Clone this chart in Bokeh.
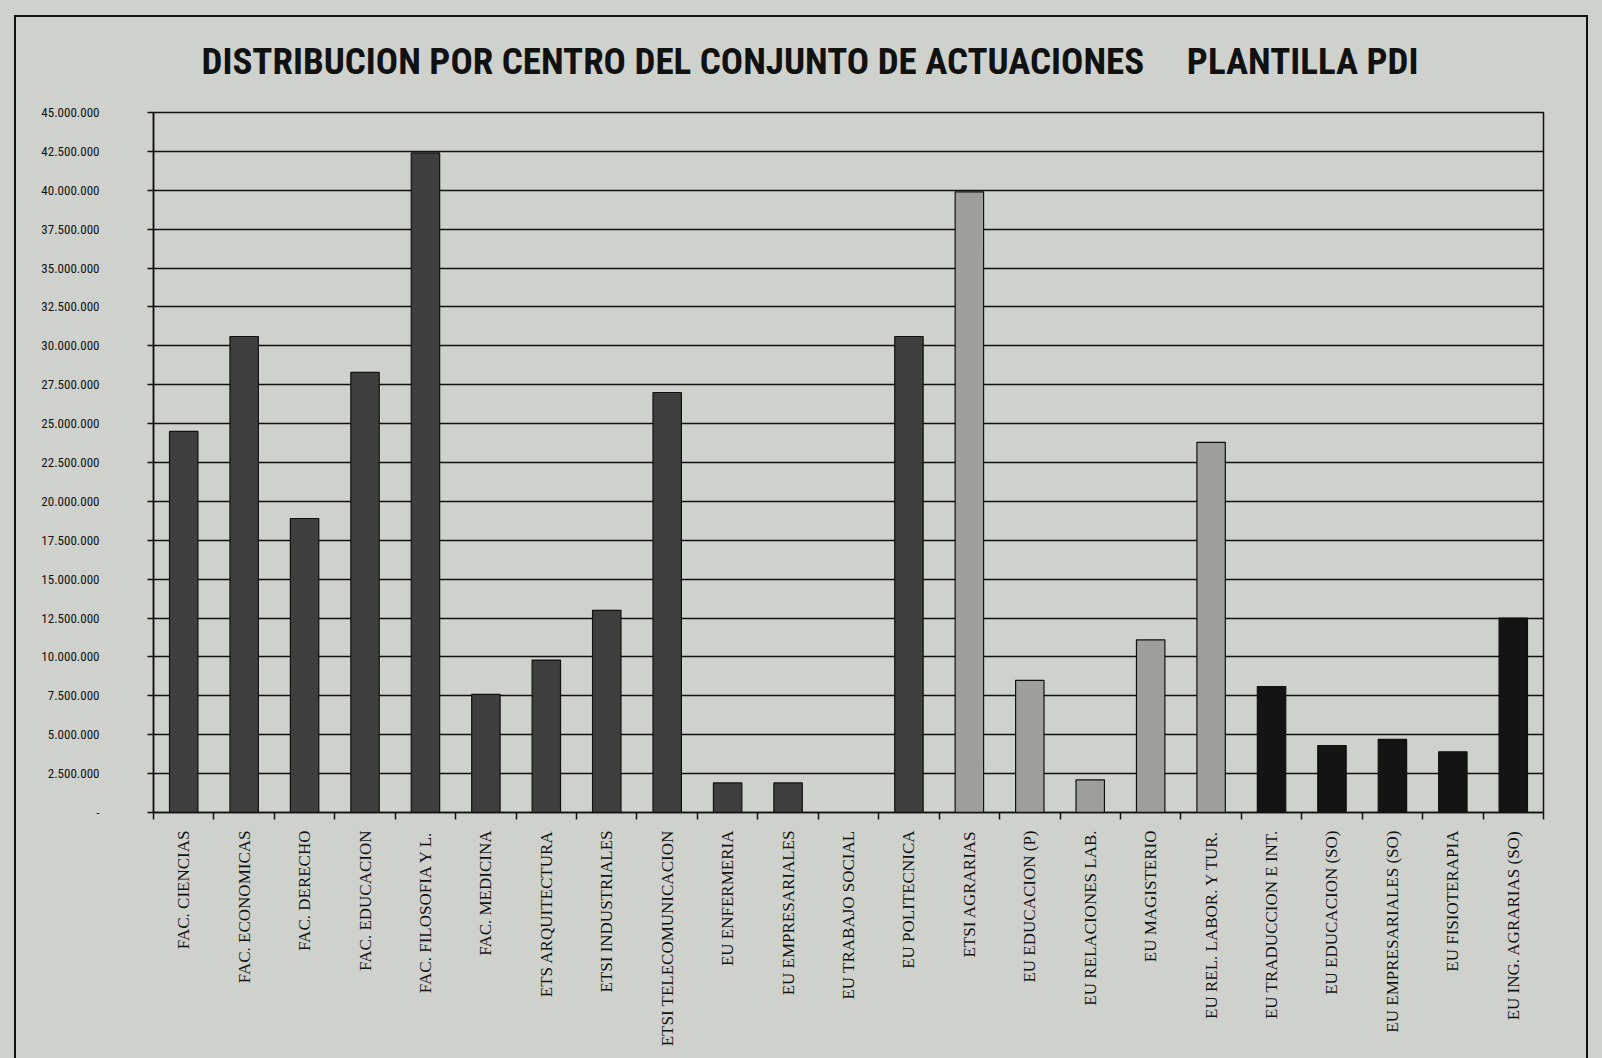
from bokeh.plotting import figure
from bokeh.models import FixedTicker, Range1d, ColumnDataSource
from bokeh.transform import factor_cmap
from bokeh.embed import file_html
from bokeh.resources import INLINE

categories = [
    "FAC. CIENCIAS", "FAC. ECONOMICAS", "FAC. DERECHO", "FAC. EDUCACION",
    "FAC. FILOSOFIA Y L.", "FAC. MEDICINA", "ETS ARQUITECTURA", "ETSI INDUSTRIALES",
    "ETSI TELECOMUNICACION", "EU ENFERMERIA", "EU EMPRESARIALES", "EU TRABAJO SOCIAL",
    "EU POLITECNICA", "ETSI AGRARIAS", "EU EDUCACION (P)", "EU RELACIONES LAB.",
    "EU MAGISTERIO", "EU REL. LABOR. Y TUR.", "EU TRADUCCION E INT.", "EU EDUCACION (SO)",
    "EU EMPRESARIALES (SO)", "EU FISIOTERAPIA", "EU ING. AGRARIAS (SO)",
]
values = [
    24500000, 30600000, 18900000, 28300000,
    42400000, 7600000, 9800000, 13000000,
    27000000, 1900000, 1900000, 0,
    30600000, 39900000, 8500000, 2100000,
    11100000, 23800000, 8100000, 4300000,
    4700000, 3900000, 12500000,
]
groups = (["Valladolid"] * 13) + (["Palencia-Segovia"] * 5) + (["Soria"] * 5)
group_names = ["Valladolid", "Palencia-Segovia", "Soria"]
y_ticks = [i * 2500000 for i in range(19)]
title_text = "DISTRIBUCION POR CENTRO DEL CONJUNTO DE ACTUACIONES\u00a0\u00a0\u00a0\u00a0\u00a0PLANTILLA PDI"

PAPER = "#cfd1cd"
INK = "#111111"
palette = ["#3f3f3f", "#9e9e9c", "#141414"]
COND = "Roboto Condensed, Roboto, sans-serif"

n = len(categories)
xs = [i + 0.5 for i in range(n)]
src = ColumnDataSource(dict(x=xs, value=values, group=groups, name=categories))

line = f"linear-gradient({INK},{INK})"
page_bg = ", ".join([
    f"{line} 14px 15px / 2px 1200px no-repeat",
    f"{line} 14px 15px / 1574px 2px no-repeat",
    f"{line} 1586px 15px / 2px 1200px no-repeat",
    PAPER,
])

p = figure(width=1602, height=1058, x_range=Range1d(0, n), y_range=Range1d(0, 45000000),
           output_backend="svg", toolbar_location=None,
           min_border_left=153, min_border_right=59, min_border_top=112, min_border_bottom=246,
           styles={"background": page_bg})
p.background_fill_color = PAPER
p.border_fill_color = None
p.outline_line_color = INK
p.outline_line_width = 1.5

p.title.text = title_text
p.title.text_font = COND
p.title.text_font_size = "37px"
p.title.text_font_style = "bold"
p.title.text_color = INK
p.title.align = "left"
p.title.offset = 48
p.title.standoff = 59

p.vbar(x="x", top="value", width=0.47, source=src,
       fill_color=factor_cmap("group", palette, group_names),
       line_color=INK, line_width=1.2)

# y axis
p.yaxis.ticker = FixedTicker(ticks=y_ticks)
p.yaxis.major_label_overrides = {
    v: ("-" if v == 0 else f"{v:,}".replace(",", ".")) for v in y_ticks
}
p.yaxis.major_label_text_font = COND
p.yaxis.major_label_text_font_size = "13px"
p.yaxis.major_label_text_color = INK
p.yaxis.major_tick_out = 6
p.yaxis.major_tick_in = 0
p.yaxis.minor_tick_line_color = None
p.yaxis.major_label_standoff = 48
p.yaxis.axis_line_color = INK
p.yaxis.axis_line_width = 1.5
p.yaxis.major_tick_line_color = INK
p.yaxis.major_tick_line_width = 1.5

# x axis
p.xaxis.ticker = FixedTicker(ticks=xs, minor_ticks=list(range(n + 1)))
p.xaxis.major_label_overrides = {x: c for x, c in zip(xs, categories)}
p.xaxis.major_label_orientation = 1.5707963
p.xaxis.major_label_text_font = "Liberation Serif, Times New Roman, serif"
p.xaxis.major_label_text_font_size = "17px"
p.xaxis.major_label_text_color = INK
p.xaxis.major_tick_line_color = None
p.xaxis.major_tick_out = 0
p.xaxis.major_tick_in = 0
p.xaxis.minor_tick_out = 7
p.xaxis.minor_tick_in = 0
p.xaxis.minor_tick_line_color = INK
p.xaxis.minor_tick_line_width = 1.5
p.xaxis.major_label_standoff = 11
p.xaxis.axis_line_color = INK
p.xaxis.axis_line_width = 1.5

p.xgrid.visible = False
p.ygrid.ticker = FixedTicker(ticks=y_ticks)
p.ygrid.grid_line_color = INK
p.ygrid.grid_line_width = 1.5
p.ygrid.grid_line_alpha = 1.0

open("out.html", "w").write(file_html(p, INLINE))
